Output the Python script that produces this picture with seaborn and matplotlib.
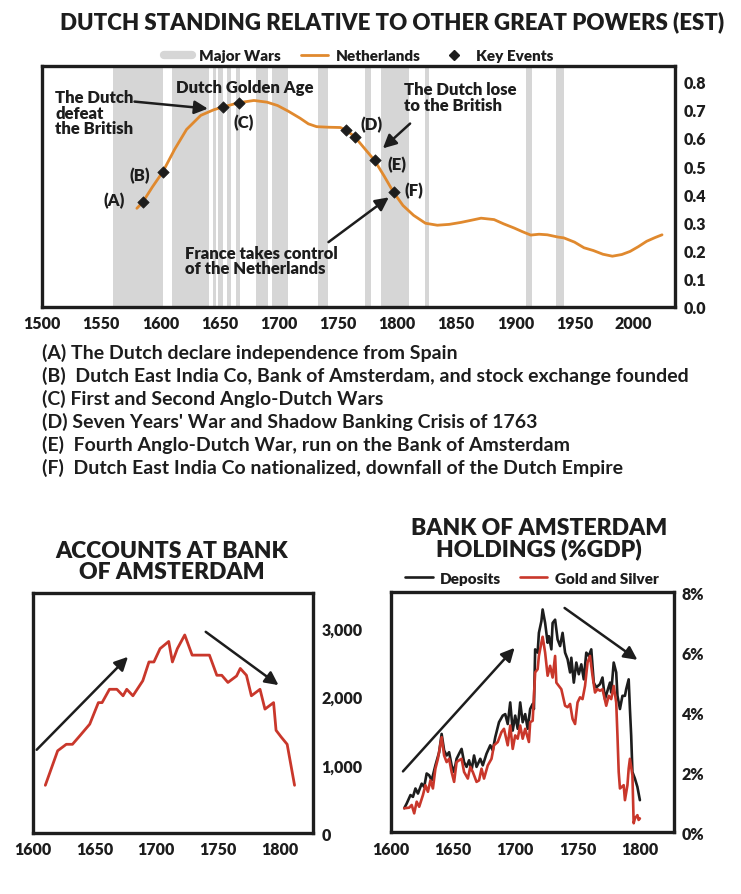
import numpy as np
import pandas as pd
import matplotlib
matplotlib.use('Agg')
import matplotlib.pyplot as plt
from matplotlib.lines import Line2D
from matplotlib.ticker import FuncFormatter
import seaborn as sns

sns.set_style('white')
plt.rcParams['font.family'] = ['Lato', 'DejaVu Sans']

INK = '#1d1d1d'
ORANGE = '#e0892e'
RED = '#c9372b'
GREY = '#d6d6d6'

# --- top chart: Dutch standing (est) ---
nl_years = [1580, 1585, 1593, 1602, 1612, 1622, 1634, 1645, 1653, 1666, 1679, 1690,
            1699, 1708, 1718, 1725, 1732, 1742, 1752, 1757, 1764, 1772, 1781, 1789,
            1797, 1805, 1814, 1824, 1834, 1844, 1854, 1862, 1871, 1882, 1890, 1899,
            1906, 1913, 1920, 1927, 1936, 1941, 1950, 1958, 1966, 1974, 1982, 1990,
            1997, 2004, 2011, 2018, 2024]
nl_values = [0.350, 0.372, 0.425, 0.480, 0.560, 0.630, 0.680, 0.700, 0.710, 0.725,
             0.733, 0.727, 0.715, 0.695, 0.670, 0.650, 0.640, 0.638, 0.637, 0.627,
             0.605, 0.565, 0.520, 0.465, 0.407, 0.360, 0.325, 0.297, 0.290, 0.293,
             0.300, 0.307, 0.315, 0.310, 0.295, 0.280, 0.267, 0.255, 0.258, 0.256,
             0.248, 0.245, 0.230, 0.210, 0.200, 0.187, 0.180, 0.186, 0.197, 0.214,
             0.233, 0.246, 0.256]

event_years = [1585, 1602, 1653, 1666, 1757, 1764, 1781, 1797]
event_values = [0.372, 0.480, 0.710, 0.725, 0.627, 0.605, 0.520, 0.407]

war_start = [1560, 1610, 1644, 1649, 1656, 1664, 1681, 1694, 1733, 1773, 1786, 1824, 1909, 1934]
war_end = [1602, 1641, 1647, 1653, 1660, 1667, 1691, 1708, 1742, 1778, 1810, 1827, 1914, 1941]

notes = ["(A) The Dutch declare independence from Spain",
         "(B)  Dutch East India Co, Bank of Amsterdam, and stock exchange founded",
         "(C) First and Second Anglo-Dutch Wars",
         "(D) Seven Years' War and Shadow Banking Crisis of 1763",
         "(E)  Fourth Anglo-Dutch War, run on the Bank of Amsterdam",
         "(F)  Dutch East India Co nationalized, downfall of the Dutch Empire"]

# --- bottom left: accounts at Bank of Amsterdam ---
acc_years = [1610, 1620, 1627, 1632, 1638, 1646, 1653, 1656, 1662, 1668, 1673, 1676,
             1681, 1689, 1694, 1698, 1703, 1710, 1713, 1717, 1723, 1729, 1743, 1749,
             1753, 1758, 1765, 1768, 1773, 1777, 1784, 1788, 1795, 1797, 1801, 1806, 1812]
acc_values = [700, 1205, 1300, 1300, 1425, 1595, 1910, 1910, 2105, 2105, 2010, 2105,
              2010, 2230, 2505, 2505, 2700, 2805, 2505, 2700, 2900, 2605, 2605, 2310,
              2310, 2205, 2300, 2410, 2310, 2010, 2105, 1815, 1910, 1505, 1410, 1300, 700]

# --- bottom right: holdings (% GDP) ---
dep_years = [1611, 1613, 1616, 1618, 1620, 1622, 1625, 1627, 1629, 1631, 1633, 1636,
             1639, 1641, 1643, 1645, 1647, 1649, 1651, 1653, 1655, 1657, 1659, 1661,
             1663, 1665, 1667, 1669, 1672, 1674, 1677, 1680, 1682, 1684, 1687, 1690,
             1692, 1694, 1696, 1698, 1700, 1702, 1704, 1706, 1708, 1710, 1712, 1714,
             1715, 1716, 1718, 1719, 1721, 1722, 1724, 1726, 1727, 1729, 1730, 1732,
             1734, 1736, 1738, 1740, 1742, 1744, 1745, 1747, 1749, 1751, 1753, 1755,
             1757, 1759, 1761, 1763, 1765, 1768, 1770, 1772, 1774, 1776, 1777, 1779,
             1781, 1782, 1784, 1786, 1788, 1789, 1791, 1792, 1793, 1794, 1796, 1798, 1800]
dep_values = [0.80, 0.96, 1.24, 1.18, 1.46, 1.29, 1.62, 1.51, 1.96, 1.90, 1.73, 2.23,
              2.67, 3.28, 2.73, 2.56, 2.67, 2.23, 2.01, 2.45, 2.62, 2.78, 2.34, 2.18,
              2.40, 2.07, 2.56, 2.18, 2.45, 2.23, 2.62, 2.90, 2.73, 3.17, 3.67, 3.89,
              3.94, 3.61, 4.33, 3.39, 3.89, 3.45, 4.33, 3.67, 3.94, 3.45, 4.11, 4.28,
              4.11, 6.10, 5.99, 6.65, 7.04, 7.43, 6.98, 6.32, 6.54, 6.10, 6.98, 7.09,
              6.43, 6.21, 6.65, 5.99, 5.77, 5.33, 5.82, 4.99, 5.66, 5.27, 5.60, 5.10,
              5.99, 5.88, 6.10, 4.99, 4.83, 4.94, 5.16, 4.44, 4.72, 4.99, 4.66, 5.66,
              5.33, 4.55, 4.11, 4.55, 4.55, 4.77, 5.10, 4.11, 3.23, 2.01, 1.79, 1.51, 1.07]

gold_years = [1611, 1615, 1617, 1619, 1621, 1623, 1626, 1628, 1630, 1632, 1634, 1636,
              1638, 1641, 1643, 1645, 1647, 1649, 1651, 1653, 1655, 1657, 1659, 1662,
              1664, 1666, 1669, 1671, 1673, 1675, 1678, 1681, 1683, 1686, 1689, 1691,
              1694, 1696, 1698, 1700, 1702, 1704, 1706, 1708, 1711, 1712, 1714, 1716,
              1718, 1719, 1721, 1722, 1724, 1726, 1728, 1730, 1732, 1733, 1735, 1737,
              1740, 1742, 1744, 1746, 1748, 1750, 1752, 1754, 1756, 1758, 1760, 1762,
              1764, 1766, 1768, 1770, 1773, 1775, 1777, 1779, 1781, 1782, 1783, 1784,
              1787, 1788, 1790, 1791, 1792, 1794, 1795, 1796, 1798, 1799, 1800]
gold_values = [0.80, 0.82, 0.91, 0.63, 1.02, 0.85, 1.24, 1.57, 1.35, 1.73, 1.46, 2.12,
               2.45, 3.17, 2.56, 2.34, 2.45, 2.01, 1.68, 2.34, 2.40, 2.45, 2.01, 1.79,
               2.18, 2.01, 1.68, 1.73, 2.12, 1.79, 2.23, 2.45, 2.90, 3.01, 3.34, 3.45,
               2.90, 3.56, 2.78, 3.23, 3.12, 3.56, 3.12, 3.45, 3.01, 3.67, 3.72, 5.33,
               5.44, 5.88, 6.32, 6.52, 5.99, 5.22, 5.55, 5.16, 5.88, 4.99, 4.88, 4.77,
               4.22, 4.17, 4.28, 3.78, 3.61, 4.33, 4.50, 4.44, 4.88, 5.66, 5.88, 5.22,
               4.66, 4.77, 4.72, 4.77, 4.22, 4.55, 4.44, 4.88, 4.33, 3.23, 2.01, 1.46,
               1.57, 1.07, 1.57, 2.12, 2.45, 1.90, 0.30, 0.46, 0.57, 0.41, 0.46]


def style_axes(ax):
    for s in ax.spines.values():
        s.set_linewidth(2.4)
        s.set_color(INK)
    ax.yaxis.tick_right()
    ax.tick_params(length=0, labelsize=11.5, colors=INK, pad=6)
    for lab in ax.get_xticklabels() + ax.get_yticklabels():
        lab.set_fontweight('heavy')
    ax.set_xlabel('')
    ax.set_ylabel('')


def arrow(ax, tail, head):
    ax.annotate('', xy=head, xytext=tail,
                arrowprops=dict(arrowstyle='-|>', lw=1.8, color=INK, mutation_scale=20,
                                shrinkA=0, shrinkB=0))


fig = plt.figure(figsize=(7.41, 8.95), dpi=100)

# ---------------- top ----------------
ax = fig.add_axes([0.057, 0.656, 0.854, 0.269])
for a, b in zip(war_start, war_end):
    ax.axvspan(a, b, color=GREY, lw=0, zorder=0)
nl = pd.DataFrame({'year': nl_years, 'value': nl_values})
sns.lineplot(data=nl, x='year', y='value', ax=ax, color=ORANGE, lw=2.0, zorder=2)
ev = pd.DataFrame({'year': event_years, 'value': event_values})
sns.scatterplot(data=ev, x='year', y='value', ax=ax, marker='D', s=34, color=INK,
                edgecolor=INK, zorder=3)
ax.set_xlim(1500, 2035)
ax.set_ylim(0, 0.855)
ax.set_xticks(range(1500, 2001, 50))
ax.set_yticks(np.arange(0, 0.81, 0.1))
ax.yaxis.set_major_formatter(FuncFormatter(lambda v, p: f'{v:.1f}'))
style_axes(ax)

lab_kw = dict(fontsize=12, fontweight='heavy', color=INK)
ax.text(1570, 0.379, '(A)', ha='right', va='center', **lab_kw)
ax.text(1591, 0.467, '(B)', ha='right', va='center', **lab_kw)
ax.text(1670, 0.658, '(C)', ha='center', va='center', **lab_kw)
ax.text(1769, 0.651, '(D)', ha='left', va='center', **lab_kw)
ax.text(1792, 0.506, '(E)', ha='left', va='center', **lab_kw)
ax.text(1806, 0.414, '(F)', ha='left', va='center', **lab_kw)
ax.text(1671, 0.78, 'Dutch Golden Age', ha='center', va='center', **lab_kw)
ax.text(1511, 0.69, 'The Dutch\ndefeat\nthe British', ha='left', va='center',
        linespacing=0.95, **lab_kw)
ax.text(1806, 0.745, 'The Dutch lose\nto the British', ha='left', va='center',
        linespacing=0.95, **lab_kw)
ax.text(1621, 0.165, 'France takes control\nof the Netherlands', ha='left', va='center',
        linespacing=0.95, **lab_kw)
arrow(ax, (1578, 0.729), (1640, 0.704))
arrow(ax, (1811, 0.651), (1788, 0.563))
arrow(ax, (1742, 0.230), (1793, 0.389))

handles = [Line2D([], [], color=GREY, lw=6),
           Line2D([], [], color=ORANGE, lw=2.0),
           Line2D([], [], color=INK, marker='D', ls='', markersize=5)]
leg = ax.legend(handles, ['Major Wars', 'Netherlands', 'Key Events'], ncol=3,
                loc='lower center', bbox_to_anchor=(0.5, 0.99), frameon=False,
                fontsize=11, handlelength=1.8, columnspacing=1.3, handletextpad=0.5,
                borderaxespad=0)
for t in leg.get_texts():
    t.set_fontweight('heavy')
    t.set_color(INK)

fig.text(0.529, 0.975, 'DUTCH STANDING RELATIVE TO OTHER GREAT POWERS (EST)', ha='center',
         va='center', fontsize=16, fontweight='heavy', color=INK)

for i, line in enumerate(notes):
    fig.text(0.057, 0.606 - i * 0.0257, line, ha='left', va='center', fontsize=14,
             fontweight='bold', color=INK)

# ---------------- bottom left ----------------
ax2 = fig.add_axes([0.0445, 0.068, 0.378, 0.268])
acc = pd.DataFrame({'year': acc_years, 'accounts': acc_values})
sns.lineplot(data=acc, x='year', y='accounts', ax=ax2, color=RED, lw=2.0)
ax2.set_xlim(1600, 1827)
ax2.set_ylim(0, 3510)
ax2.set_xticks(range(1600, 1801, 50))
ax2.set_yticks([0, 1000, 2000, 3000])
ax2.yaxis.set_major_formatter(FuncFormatter(lambda v, p: f'{int(v):,}'))
style_axes(ax2)
arrow(ax2, (1603, 1220), (1677, 2580))
arrow(ax2, (1740, 2946), (1799, 2166))
fig.text(0.232, 0.372, 'ACCOUNTS AT BANK\nOF AMSTERDAM', ha='center', va='center',
         fontsize=16.5, fontweight='heavy', color=INK, linespacing=0.95)

# ---------------- bottom right ----------------
ax3 = fig.add_axes([0.527, 0.069, 0.382, 0.268])
dep = pd.DataFrame({'year': dep_years, 'pct': dep_values})
gold = pd.DataFrame({'year': gold_years, 'pct': gold_values})
sns.lineplot(data=dep, x='year', y='pct', ax=ax3, color=INK, lw=1.9, label='Deposits')
sns.lineplot(data=gold, x='year', y='pct', ax=ax3, color=RED, lw=1.9, label='Gold and Silver')
ax3.set_xlim(1600, 1827)
ax3.set_ylim(0, 8)
ax3.set_xticks(range(1600, 1801, 50))
ax3.set_yticks([0, 2, 4, 6, 8])
ax3.yaxis.set_major_formatter(FuncFormatter(lambda v, p: f'{int(v)}%'))
style_axes(ax3)
arrow(ax3, (1610, 2.03), (1699.5, 6.15))
arrow(ax3, (1739.6, 7.48), (1798, 5.75))
leg3 = ax3.legend(ncol=2, loc='lower center', bbox_to_anchor=(0.5, 1.0), frameon=False,
                  fontsize=11, handlelength=1.8, columnspacing=1.2, handletextpad=0.5,
                  borderaxespad=0.1)
for t in leg3.get_texts():
    t.set_fontweight('heavy')
    t.set_color(INK)
fig.text(0.727, 0.398, 'BANK OF AMSTERDAM\nHOLDINGS (%GDP)', ha='center', va='center',
         fontsize=16.5, fontweight='heavy', color=INK, linespacing=0.95)

fig.savefig('out.png', dpi=100)
